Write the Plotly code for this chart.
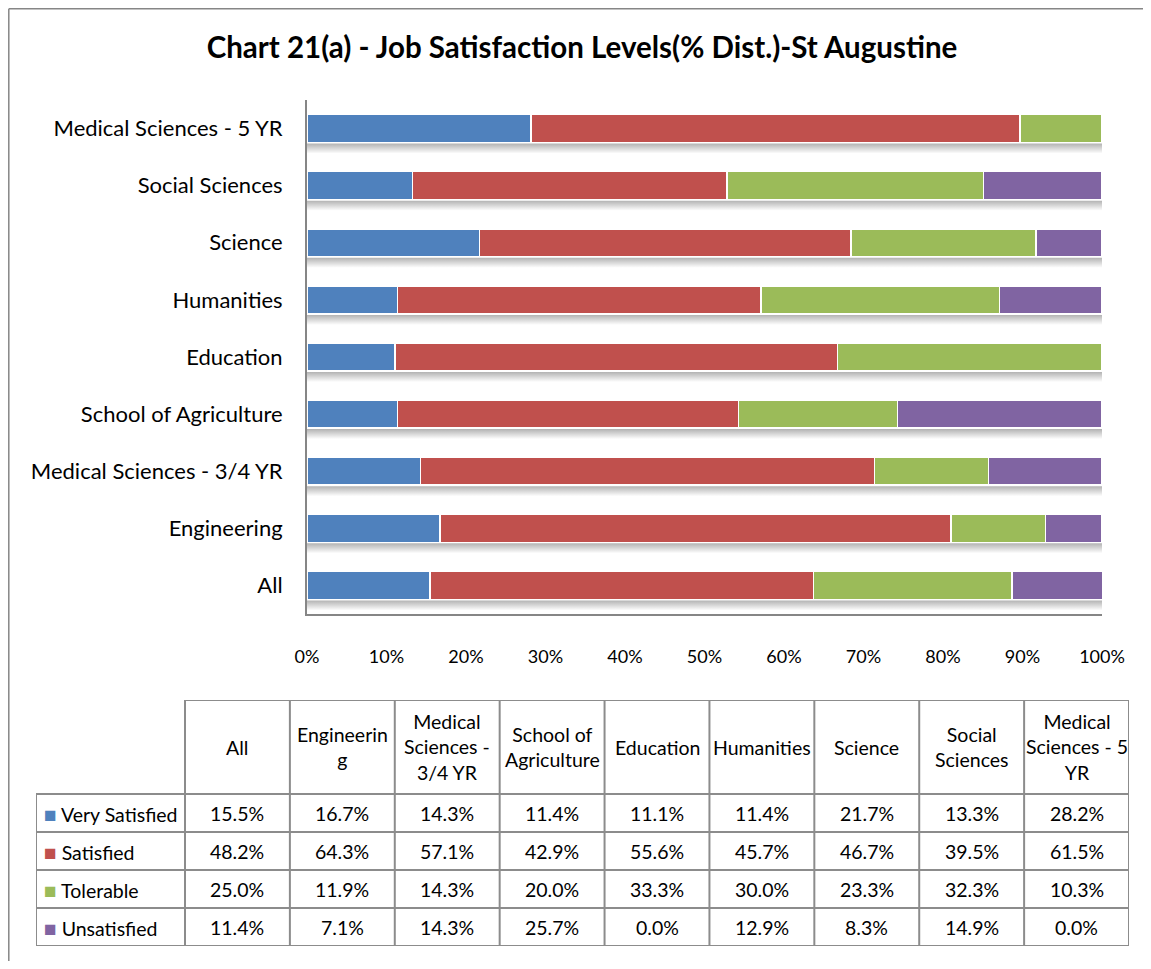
import plotly.graph_objects as go

# The page body adds an 8px margin on every side; keep the figure small enough to avoid scrollbars.
OFF = 8
W, H = 1151 - 2 * OFF, 969 - 2 * OFF


def fx(px):
    return (px - OFF) / W


def fy(py):
    return 1 - (py - OFF) / H


categories = ["All", "Engineering", "Medical Sciences - 3/4 YR", "School of Agriculture",
              "Education", "Humanities", "Science", "Social Sciences", "Medical Sciences - 5 YR"]
header_labels = ["All", "Engineerin<br>g", "Medical<br>Sciences -<br>3/4 YR", "School of<br>Agriculture",
                 "Education", "Humanities", "Science", "Social<br>Sciences", "Medical<br>Sciences - 5<br>YR"]

series_names = ["Very Satisfied", "Satisfied", "Tolerable", "Unsatisfied"]
very_satisfied = [15.5, 16.7, 14.3, 11.4, 11.1, 11.4, 21.7, 13.3, 28.2]
satisfied = [48.2, 64.3, 57.1, 42.9, 55.6, 45.7, 46.7, 39.5, 61.5]
tolerable = [25.0, 11.9, 14.3, 20.0, 33.3, 30.0, 23.3, 32.3, 10.3]
unsatisfied = [11.4, 7.1, 14.3, 25.7, 0.0, 12.9, 8.3, 14.9, 0.0]
series_values = [very_satisfied, satisfied, tolerable, unsatisfied]
colors = ["#4F81BD", "#C0504D", "#9BBB59", "#8064A2"]

title = "Chart 21(a) - Job Satisfaction Levels(% Dist.)-St Augustine"
FONT = "Lato, 'Open Sans', sans-serif"

n = len(categories)
ypos = list(range(n))
BAR_W = 0.49
PX_PER_CAT = 57.0

fig = go.Figure()

# soft drop shadow under every bar
for i in ypos:
    top = i - BAR_W / 2 - 1 / PX_PER_CAT
    bot = i - BAR_W / 2 - 11 / PX_PER_CAT
    fig.add_trace(go.Scatter(
        x=[0, 1.004, 1.004, 0, 0], y=[bot, bot, top, top, bot],
        mode="lines", line=dict(width=0), fill="toself",
        fillgradient=dict(type="vertical",
                          colorscale=[[0, "rgba(0,0,0,0)"], [1, "rgba(0,0,0,0.30)"]]),
        showlegend=False, hoverinfo="skip"))

for name, vals, col in zip(series_names, series_values, colors):
    fig.add_trace(go.Bar(
        y=ypos, x=[v / 100 for v in vals], name=name, orientation="h",
        marker=dict(color=col, line=dict(color="white", width=1.5)),
        width=BAR_W, showlegend=False, hoverinfo="x+name"))

# ---- data table drawn on its own pixel-scaled axes (x2 / y2) ----
TBL_W, TBL_H = 1093, 246
LEG_W = 149
COL_W = (TBL_W - LEG_W) / n
HEAD_H = 94
ROW_H = 38
col_edges = [0, LEG_W] + [LEG_W + COL_W * (k + 1) for k in range(n)]
row_edges = [0, HEAD_H] + [HEAD_H + ROW_H * (r + 1) for r in range(len(series_names))]

grid = "#8C8C8C"
shapes = []
annotations = []
TF = dict(family=FONT, size=19.5, color="black")

# horizontal grid lines
for r, yv in enumerate(row_edges):
    x0 = LEG_W if r == 0 else 0
    shapes.append(dict(type="line", xref="x2", yref="y2", x0=x0, x1=TBL_W, y0=yv, y1=yv,
                       line=dict(color=grid, width=2)))
# vertical grid lines
for c, xv in enumerate(col_edges):
    y0 = HEAD_H if c == 0 else 0
    shapes.append(dict(type="line", xref="x2", yref="y2", x0=xv, x1=xv, y0=y0, y1=TBL_H,
                       line=dict(color=grid, width=2)))

# header labels
for k, lab in enumerate(header_labels):
    annotations.append(dict(xref="x2", yref="y2", x=(col_edges[k + 1] + col_edges[k + 2]) / 2,
                            y=HEAD_H / 2, text=lab, showarrow=False, align="center",
                            xanchor="center", yanchor="middle", font=TF))
# legend column + values
for s, (name, col) in enumerate(zip(series_names, colors)):
    yc = (row_edges[s + 1] + row_edges[s + 2]) / 2
    annotations.append(dict(xref="x2", yref="y2", x=6, y=yc,
                            text=f"<span style='color:{col};font-size:21px'>■</span> {name}",
                            showarrow=False, xanchor="left", yanchor="middle", font=TF))
    for k in range(n):
        annotations.append(dict(xref="x2", yref="y2", x=(col_edges[k + 1] + col_edges[k + 2]) / 2,
                                y=yc, text=f"{series_values[s][k]:.1f}%", showarrow=False,
                                xanchor="center", yanchor="middle", font=TF))

# outer chart border (left and top edges visible)
shapes.append(dict(type="line", xref="paper", yref="paper", x0=0.8 / W, x1=0.8 / W, y0=0, y1=1 - 0.8 / H,
                   line=dict(color="#868686", width=1.5)))
shapes.append(dict(type="line", xref="paper", yref="paper", x0=0.8 / W, x1=1, y0=1 - 0.8 / H, y1=1 - 0.8 / H,
                   line=dict(color="#868686", width=1.5)))

fig.update_layout(
    width=W, height=H,
    margin=dict(l=0, r=0, t=0, b=0),
    paper_bgcolor="white", plot_bgcolor="white",
    barmode="stack",
    title=dict(text=f"<b>{title}</b>", x=fx(582), xanchor="center", y=fy(48), yanchor="middle",
               font=dict(family=FONT, size=29.5, color="black")),
    font=dict(family=FONT, color="black"),
    xaxis=dict(domain=[fx(307), fx(1102)], range=[0, 1], tickformat=".0%", dtick=0.1,
               showgrid=False, zeroline=False, showline=True, linecolor="#868686", linewidth=2,
               ticks="", ticklabelstandoff=25, tickfont=dict(size=18, family=FONT), automargin=False),
    yaxis=dict(domain=[fy(614), fy(100)], range=[-0.5, n - 0.5], tickmode="array",
               tickvals=ypos, ticktext=categories, showgrid=False, zeroline=False,
               showline=True, linecolor="#868686", linewidth=2, ticks="",
               ticklabelstandoff=18, tickfont=dict(size=22, family=FONT), automargin=False),
    xaxis2=dict(domain=[fx(36), fx(1129)], range=[0, TBL_W], visible=False, anchor="y2"),
    yaxis2=dict(domain=[fy(946), fy(700)], range=[TBL_H, 0], visible=False, anchor="x2"),
    shapes=shapes,
    annotations=annotations,
)

fig.write_html("out.html")
